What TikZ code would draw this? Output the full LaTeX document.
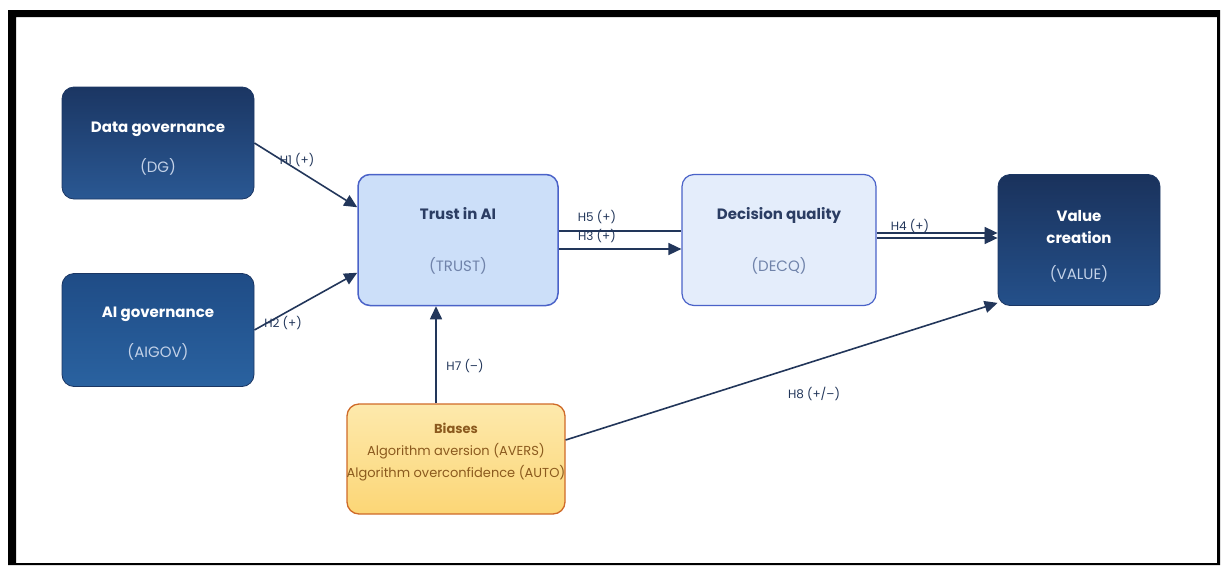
\documentclass[tikz,border=0pt]{standalone}
\usepackage{fontspec}
\setmainfont{Poppins}
\usepackage{tikz}
\usetikzlibrary{arrows.meta}

\definecolor{navyA}{HTML}{1B3663}
\definecolor{navyB}{HTML}{2A5893}
\definecolor{govA}{HTML}{1F4C86}
\definecolor{govB}{HTML}{2A62A0}
\definecolor{valA}{HTML}{1A325C}
\definecolor{valB}{HTML}{24508A}
\definecolor{subtxt}{HTML}{C4D2E8}
\definecolor{edgecol}{HTML}{22365A}
\definecolor{trustfill}{HTML}{CCDFF9}
\definecolor{trustline}{HTML}{4A62C8}
\definecolor{decqfill}{HTML}{E4EDFB}
\definecolor{darktxt}{HTML}{2B3D63}
\definecolor{greytxt}{HTML}{7083AA}
\definecolor{biasA}{HTML}{FDE9AC}
\definecolor{biasB}{HTML}{FCD676}
\definecolor{biasline}{HTML}{CF6A28}
\definecolor{biastxt}{HTML}{8B5A1E}

\tikzset{
  darkbox/.style={rounded corners=12pt, draw=navyA, line width=0.8pt},
  lightbox/.style={rounded corners=12pt, draw=trustline, line width=1.5pt},
  biasbox/.style={rounded corners=12pt, draw=biasline, line width=1.3pt,
    top color=biasA, bottom color=biasB},
  boxname/.style={align=center, inner sep=0pt, text height=1.5ex, text depth=0.2ex,
    font=\fontsize{15}{22}\selectfont\bfseries},
  boxcode/.style={inner sep=0pt, text height=1.5ex, text depth=0.2ex,
    font=\fontsize{15}{18}\selectfont},
  hyp/.style={text=edgecol, font=\fontsize{12}{14}\selectfont, inner sep=1pt},
  link/.style={draw=edgecol, line width=1.6pt},
  arr/.style={link, -{Triangle[length=13pt,width=12pt]}}
}

\begin{document}
\begin{tikzpicture}[x=1pt, y=-1pt]
  \useasboundingbox (0,0) rectangle (1223,565);
  \fill[black, even odd rule] (8,10) rectangle (1220,565) (16,17) rectangle (1217,563);

  % constructs
  \node[darkbox, minimum width=192pt, minimum height=112pt,
    top color=navyA, bottom color=navyB] (dg) at (158,143) {};
  \node[boxname, white] (dgname) at ([yshift=14pt]dg.center) {Data governance};
  \node[boxcode, subtxt] (dgcode) at ([yshift=-26pt]dg.center) {(DG)};

  \node[darkbox, minimum width=192pt, minimum height=113pt,
    top color=govA, bottom color=govB] (aigov) at (158,330) {};
  \node[boxname, white] (aigovname) at ([yshift=16pt]aigov.center) {AI governance};
  \node[boxcode, subtxt] (aigovcode) at ([yshift=-24pt]aigov.center) {(AIGOV)};

  \node[lightbox, fill=trustfill, minimum width=200pt, minimum height=131pt] (trust) at (458,240) {};
  \node[boxname, darktxt] (trustname) at ([yshift=24pt]trust.center) {Trust in AI};
  \node[boxcode, greytxt] (trustcode) at ([yshift=-28pt]trust.center) {(TRUST)};

  \node[lightbox, fill=decqfill, line width=1.2pt, minimum width=194pt, minimum height=131pt] (decq) at (779,240) {};
  \node[boxname, darktxt] (decqname) at ([yshift=24pt]decq.center) {Decision quality};
  \node[boxcode, greytxt] (decqcode) at ([yshift=-28pt]decq.center) {(DECQ)};

  \node[darkbox, minimum width=162pt, minimum height=131pt,
    top color=valA, bottom color=valB] (value) at (1079,240) {};
  \node[boxname, white, text height=, text depth=] (valuename) at ([yshift=13pt]value.center) {Value\\creation};
  \node[boxcode, subtxt] (valuecode) at ([yshift=-36pt]value.center) {(VALUE)};

  \node[biasbox, minimum width=218pt, minimum height=110pt] (bias) at (456,459) {};
  \node[align=center, text=biastxt, inner sep=0pt, font=\fontsize{13}{22}\selectfont] (biastext)
    at ([yshift=7pt]bias.center)
    {\textbf{Biases}\\Algorithm aversion (AVERS)\\Algorithm overconfidence (AUTO)};

  % hypotheses
  \draw[arr] (dg.east) -- (trust.162);
  \draw[arr] (aigov.east) -- (trust.198);
  \draw[link] ([yshift=9pt]trust.east) -- ([yshift=9pt]decq.west);
  \draw[arr] ([yshift=-9pt]trust.east) -- ([yshift=-9pt]decq.west);
  \draw[arr] ([yshift=7pt]decq.east) -- ([yshift=7pt]value.west);
  \draw[arr] ([yshift=2pt]decq.east) -- ([yshift=2pt]value.west);
  \draw[arr] ([xshift=-20pt]bias.north) -- ([xshift=-20pt]bias.north |- trust.south);
  \draw[arr] ([yshift=19pt]bias.east) -- ([yshift=3pt]value.south west);

  \node[hyp] (h1) at (297,160) {H1 (+)};
  \node[hyp] (h2) at (283,323) {H2 (+)};
  \node[hyp] (h5) at (597,217) {H5 (+)};
  \node[hyp] (h3) at (597,236) {H3 (+)};
  \node[hyp] (h4) at (910,226) {H4 (+)};
  \node[hyp] (h7) at (465,366) {H7 (--)};
  \node[hyp] (h8) at (814,394) {H8 (+/--)};
\end{tikzpicture}
\end{document}
